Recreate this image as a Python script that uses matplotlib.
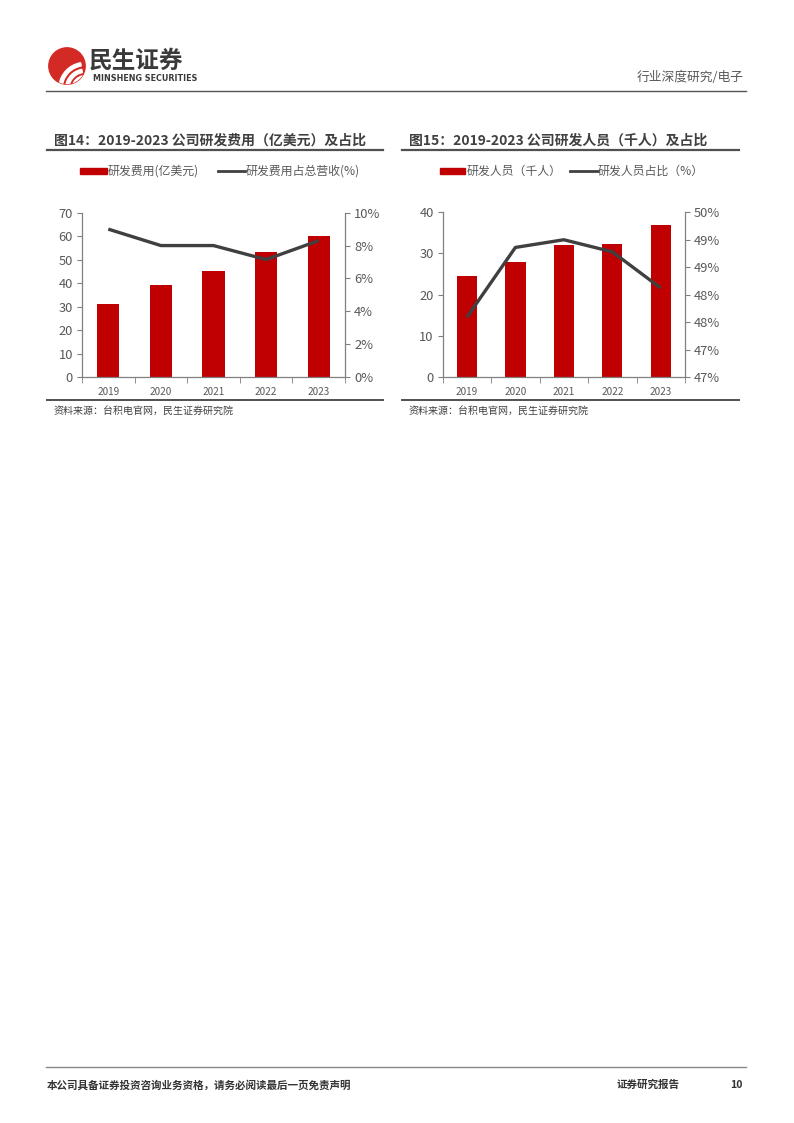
import matplotlib
matplotlib.use("Agg")
import matplotlib.pyplot as plt
from matplotlib.patches import Rectangle, Circle, Wedge
from matplotlib.lines import Line2D
import numpy as np

plt.rcParams['font.family'] = ['Noto Sans CJK SC', 'DejaVu Sans']

years = ['2019', '2020', '2021', '2022', '2023']
rd_expense = [31.1, 39.2, 45.0, 53.1, 60.1]          # 亿美元
rd_expense_ratio = [9.0, 8.0, 8.0, 7.15, 8.3]        # %
rd_staff = [24.5, 27.9, 32.0, 32.3, 36.9]            # 千人
rd_staff_ratio = [48.09, 49.36, 49.50, 49.28, 48.62] # %

left_ticks1 = [0, 10, 20, 30, 40, 50, 60, 70]
right_ticks1 = [0, 2, 4, 6, 8, 10]
right_labels1 = ['0%', '2%', '4%', '6%', '8%', '10%']
left_ticks2 = [0, 10, 20, 30, 40]
right_ticks2 = [47.0, 47.5, 48.0, 48.5, 49.0, 49.5, 50.0]
right_labels2 = ['47%', '47%', '48%', '48%', '49%', '49%', '50%']

W, H = 794, 1123
fig = plt.figure(figsize=(W / 100, H / 100), dpi=100)

BAR = '#C00000'
LINE = '#404040'
TXT = '#595959'
SPINE = '#808080'


def fx(x):
    return x / W


def fy(y):
    return 1 - y / H


def hline(x0, x1, y, color='#555555', lw=1.2):
    fig.add_artist(Line2D([fx(x0), fx(x1)], [fy(y), fy(y)], color=color, lw=lw,
                          transform=fig.transFigure))


# ---------- header ----------
logo_ax = fig.add_axes([fx(47), fy(86), fx(87) - fx(47), fy(46) - fy(86)])
logo_ax.set_xlim(-1.1, 1.1)
logo_ax.set_ylim(-1.1, 1.1)
logo_ax.set_aspect('equal')
logo_ax.axis('off')
circ = Circle((0, 0), 1, color='#D42A26')
logo_ax.add_patch(circ)
for r in [1.45, 1.08, 0.72]:
    wdg = Wedge((1.0, -1.25), r, 100, 172, width=0.18, color='white')
    logo_ax.add_patch(wdg)
    wdg.set_clip_path(circ)
fig.text(fx(89), fy(61), '民生证券', fontsize=17, fontweight='bold', color='#3a3a3a',
         ha='left', va='center')
fig.text(fx(93), fy(78.5), 'MINSHENG SECURITIES', fontsize=5.8, fontweight='bold',
         color='#3a3a3a', ha='left', va='center', family=['DejaVu Sans'])
fig.text(fx(744), fy(77), '行业深度研究/电子', fontsize=9.2, color='#595959',
         ha='right', va='center')
hline(46, 746, 91, color='#555555', lw=1.0)

# ---------- footer ----------
hline(46, 746, 1067, color='#888888', lw=1.0)
fig.text(fx(47), fy(1085), '本公司具备证券投资咨询业务资格，请务必阅读最后一页免责声明',
         fontsize=7.6, fontweight='bold', color='#333333', ha='left', va='center')
fig.text(fx(617), fy(1085), '证券研究报告', fontsize=7.6, fontweight='bold',
         color='#333333', ha='left', va='center')
fig.text(fx(743), fy(1085), '10', fontsize=7.6, fontweight='bold',
         color='#333333', ha='right', va='center')


def panel(x_left, x_line0, x_line1, title, leg_bar, leg_line, leg_pos,
          ax_box, bars, line, lticks, rticks, rlabels, rlim):
    fig.text(fx(x_left), fy(141), title, fontsize=10, fontweight='bold',
             color='#404040', ha='left', va='center')
    hline(x_line0, x_line1, 149.5, color='#505050', lw=1.6)
    bx0, bx1, tx0, lx0, lx1, tx1 = leg_pos
    fig.add_artist(Rectangle((fx(bx0), fy(173.5)), fx(bx1) - fx(bx0), fy(168) - fy(173.5),
                             color=BAR, transform=fig.transFigure))
    fig.text(fx(tx0), fy(171), leg_bar, fontsize=8.6, color=TXT, ha='left', va='center')
    fig.add_artist(Line2D([fx(lx0), fx(lx1)], [fy(171), fy(171)], color=LINE, lw=2,
                          transform=fig.transFigure))
    fig.text(fx(tx1), fy(171), leg_line, fontsize=8.6, color=TXT, ha='left', va='center')

    l, r, t, b = ax_box
    ax = fig.add_axes([fx(l), fy(b), fx(r) - fx(l), fy(t) - fy(b)])
    x = np.arange(len(years))
    ax.bar(x, bars, width=0.42, color=BAR, zorder=2)
    ax.set_xlim(-0.5, len(years) - 0.5)
    ax.set_ylim(lticks[0], lticks[-1])
    ax.set_yticks(lticks)
    ax.set_yticklabels([str(v) for v in lticks])
    ax.set_xticks(x)
    ax.set_xticklabels(years)
    ax.set_xticks(np.arange(-0.5, len(years) + 0.5, 1), minor=True)
    ax.tick_params(axis='x', which='major', length=0, labelsize=7.2, colors=TXT, pad=7)
    ax.tick_params(axis='x', which='minor', length=4, color=SPINE, direction='out')
    ax.tick_params(axis='y', length=3.5, color=SPINE, labelsize=9.3, labelcolor=TXT, pad=3)
    for s in ['top', 'right']:
        ax.spines[s].set_visible(False)
    for s in ['left', 'bottom']:
        ax.spines[s].set_color(SPINE)
        ax.spines[s].set_linewidth(0.9)

    ax2 = ax.twinx()
    ax2.plot(x, line, color=LINE, lw=2.4, zorder=3, solid_capstyle='butt')
    ax2.set_ylim(*rlim)
    ax2.set_yticks(rticks)
    ax2.set_yticklabels(rlabels)
    ax2.tick_params(axis='y', length=3.5, color=SPINE, labelsize=9.3, labelcolor=TXT, pad=3)
    for s in ['top', 'left', 'bottom']:
        ax2.spines[s].set_visible(False)
    ax2.spines['right'].set_color(SPINE)
    ax2.spines['right'].set_linewidth(0.9)
    return ax


panel(54, 47, 383, '图14：2019-2023 公司研发费用（亿美元）及占比',
      '研发费用(亿美元)', '研发费用占总营收(%)',
      (80, 106.5, 108, 218, 245, 246),
      (82, 345, 212.7, 377), rd_expense, rd_expense_ratio,
      left_ticks1, right_ticks1, right_labels1, (0, 10))

panel(409, 402, 739, '图15：2019-2023 公司研发人员（千人）及占比',
      '研发人员（千人）', '研发人员占比（%）',
      (440, 465.5, 467, 570, 598, 598),
      (442.7, 685, 212.3, 377), rd_staff, rd_staff_ratio,
      left_ticks2, right_ticks2, right_labels2, (47, 50))

hline(47, 383, 400, color='#505050', lw=1.4)
hline(402, 739, 400, color='#505050', lw=1.4)
fig.text(fx(54), fy(411), '资料来源：台积电官网，民生证券研究院', fontsize=7.2,
         color='#404040', ha='left', va='center')
fig.text(fx(409), fy(411), '资料来源：台积电官网，民生证券研究院', fontsize=7.2,
         color='#404040', ha='left', va='center')

fig.savefig('out.png', dpi=100)
